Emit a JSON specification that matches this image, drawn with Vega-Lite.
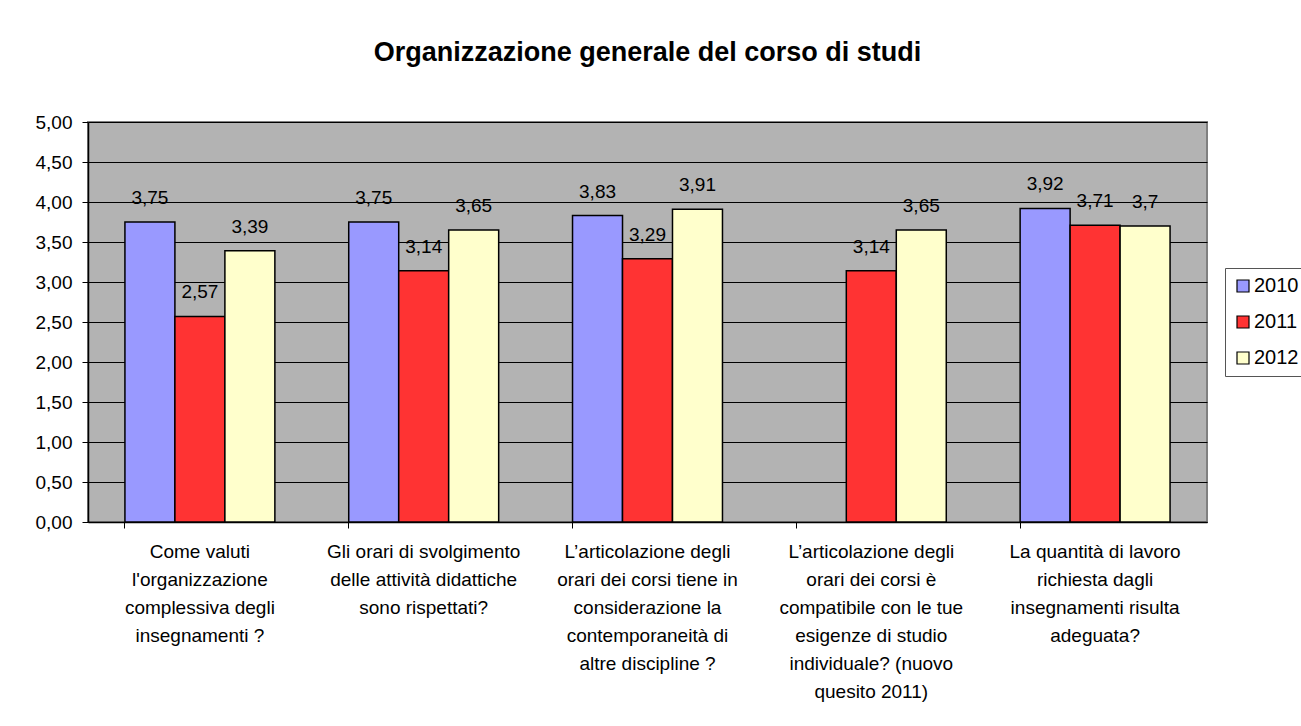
{
  "$schema": "https://vega.github.io/schema/vega-lite/v6.json",
  "autosize": "none",
  "width": 1119,
  "height": 400,
  "padding": {"left": 88, "top": 122, "right": 94, "bottom": 204},
  "background": "white",
  "title": {
    "text": "Organizzazione generale del corso di studi",
    "font": "Liberation Sans",
    "fontSize": 27,
    "fontWeight": "bold",
    "color": "black",
    "anchor": "middle",
    "offset": 46
  },
  "data": {
    "values": [
      {"q": "Come valuti|l'organizzazione|complessiva degli|insegnamenti ?", "year": "2010", "value": 3.75, "label": "3,75"},
      {"q": "Come valuti|l'organizzazione|complessiva degli|insegnamenti ?", "year": "2011", "value": 2.57, "label": "2,57"},
      {"q": "Come valuti|l'organizzazione|complessiva degli|insegnamenti ?", "year": "2012", "value": 3.39, "label": "3,39"},
      {"q": "Gli orari di svolgimento|delle attività didattiche|sono rispettati?", "year": "2010", "value": 3.75, "label": "3,75"},
      {"q": "Gli orari di svolgimento|delle attività didattiche|sono rispettati?", "year": "2011", "value": 3.14, "label": "3,14"},
      {"q": "Gli orari di svolgimento|delle attività didattiche|sono rispettati?", "year": "2012", "value": 3.65, "label": "3,65"},
      {"q": "L’articolazione degli|orari dei corsi tiene in|considerazione la|contemporaneità di|altre discipline ?", "year": "2010", "value": 3.83, "label": "3,83"},
      {"q": "L’articolazione degli|orari dei corsi tiene in|considerazione la|contemporaneità di|altre discipline ?", "year": "2011", "value": 3.29, "label": "3,29"},
      {"q": "L’articolazione degli|orari dei corsi tiene in|considerazione la|contemporaneità di|altre discipline ?", "year": "2012", "value": 3.91, "label": "3,91"},
      {"q": "L’articolazione degli|orari dei corsi è|compatibile con le tue|esigenze di studio|individuale? (nuovo|quesito 2011)", "year": "2011", "value": 3.14, "label": "3,14"},
      {"q": "L’articolazione degli|orari dei corsi è|compatibile con le tue|esigenze di studio|individuale? (nuovo|quesito 2011)", "year": "2012", "value": 3.65, "label": "3,65"},
      {"q": "La quantità di lavoro|richiesta dagli|insegnamenti risulta|adeguata?", "year": "2010", "value": 3.92, "label": "3,92"},
      {"q": "La quantità di lavoro|richiesta dagli|insegnamenti risulta|adeguata?", "year": "2011", "value": 3.71, "label": "3,71"},
      {"q": "La quantità di lavoro|richiesta dagli|insegnamenti risulta|adeguata?", "year": "2012", "value": 3.7, "label": "3,7"}
    ]
  },
  "encoding": {
    "x": {
      "field": "q",
      "type": "nominal",
      "sort": null,
      "scale": {"paddingInner": 0.33, "paddingOuter": 0.165},
      "axis": {
        "title": null,
        "labelAngle": 0,
        "labelExpr": "split(datum.value, '|')",
        "labelFont": "Liberation Sans",
        "labelFontSize": 19,
        "labelColor": "black",
        "labelLineHeight": 28,
        "labelPadding": 14,
        "labelBaseline": "top",
        "bandPosition": 0,
        "tickSize": 6,
        "tickColor": "black",
        "domainColor": "black",
        "domainWidth": 1.5,
        "grid": false,
        "labelLimit": 300
      }
    },
    "xOffset": {"field": "year", "type": "nominal"},
    "y": {
      "field": "value",
      "type": "quantitative",
      "scale": {"domain": [0, 5], "nice": false},
      "axis": {
        "title": null,
        "values": [0, 0.5, 1, 1.5, 2, 2.5, 3, 3.5, 4, 4.5, 5],
        "labelExpr": "replace(format(datum.value, '.2f'), '.', ',')",
        "labelFont": "Liberation Sans",
        "labelFontSize": 19,
        "labelColor": "black",
        "labelPadding": 10,
        "tickSize": 6,
        "tickColor": "black",
        "domainColor": "black",
        "domainWidth": 1.5,
        "grid": true,
        "gridColor": "black",
        "gridWidth": 1.2
      }
    }
  },
  "layer": [
    {
      "mark": {"type": "bar", "stroke": "black", "strokeWidth": 1.5},
      "encoding": {
        "color": {
          "field": "year",
          "type": "nominal",
          "scale": {"domain": ["2010", "2011", "2012"], "range": ["#9999FF", "#FF3333", "#FFFFCC"]},
          "legend": {
            "title": null,
            "orient": "none",
            "legendX": 1137,
            "legendY": 146,
            "symbolType": "square",
            "symbolSize": 144,
            "symbolStrokeColor": "black",
            "symbolStrokeWidth": 1.2,
            "labelFont": "Liberation Sans",
            "labelFontSize": 20,
            "labelColor": "black",
            "labelOffset": 1,
            "rowPadding": 16,
            "padding": 8,
            "strokeColor": "#555555",
            "fillColor": "white"
          }
        }
      }
    },
    {
      "mark": {"type": "text", "font": "Liberation Sans", "fontSize": 19, "color": "black", "baseline": "middle", "dy": -24},
      "encoding": {"text": {"field": "label"}}
    }
  ],
  "config": {
    "view": {"fill": "#B3B3B3", "stroke": "#808080", "strokeWidth": 2}
  }
}
